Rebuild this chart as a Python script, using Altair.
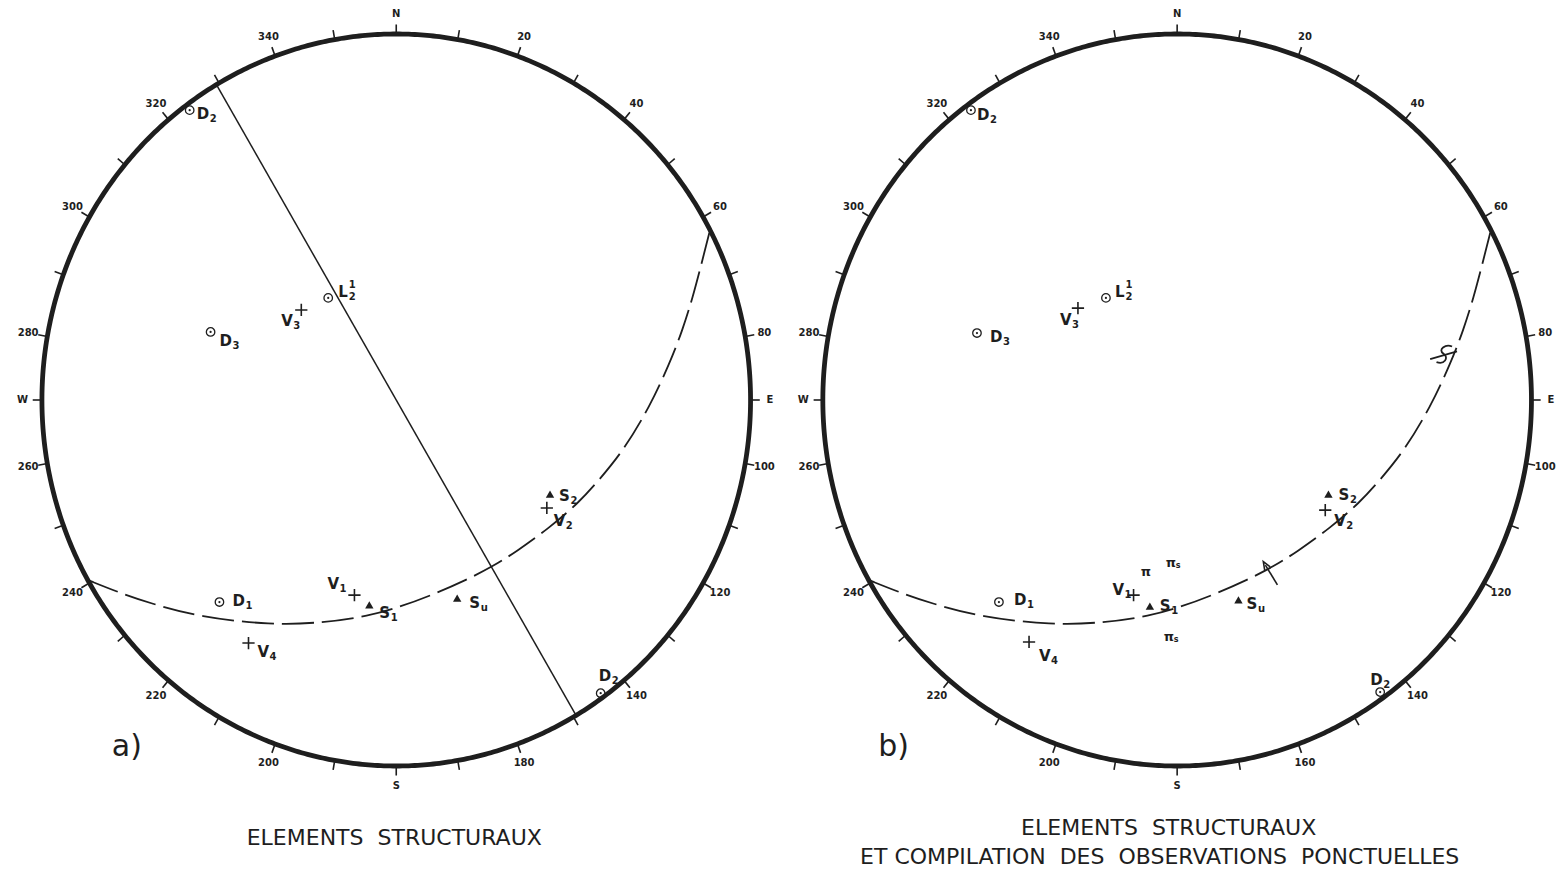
import altair as alt
import pandas as pd
import numpy as np

# ---------------- data (equal-area net coordinates: east, north; unit = net radius) -------------
PANELS = ["a", "b"]

RIM_LABEL_AZ = [0, 20, 40, 60, 80, 90, 100, 120, 140, 160, 180, 200, 220, 240, 260, 270, 280, 300, 320, 340]
RIM_LABELS_A = ["N", "20", "40", "60", "80", "E", "100", "120", "140", "180", "S", "200", "220", "240", "260", "W", "280", "300", "320", "340"]
RIM_LABELS_B = ["N", "20", "40", "60", "80", "E", "100", "120", "140", "160", "S", "200", "220", "240", "260", "W", "280", "300", "320", "340"]

# dashed great circle (both panels)
ARC_E = [-0.870, -0.780, -0.696, -0.555, -0.352, -0.208, -0.076, 0.008, 0.101, 0.197, 0.270,
         0.338, 0.431, 0.515, 0.572, 0.642, 0.715, 0.772, 0.808, 0.837, 0.862, 0.885]
ARC_N = [-0.492, -0.527, -0.555, -0.593, -0.615, -0.609, -0.590, -0.566, -0.533, -0.492, -0.456,
         -0.415, -0.350, -0.281, -0.219, -0.137, -0.019, 0.101, 0.191, 0.281, 0.374, 0.462]

# trace of the vertical plane (panel a)
PLANE_TREND = [329.5, 149.5]

POINT_NAMES = ["D2a", "L", "V3", "D3", "D1", "V1", "S1", "Su", "S2", "V2", "V4", "D2b"]
POINT_KIND = ["D", "D", "V", "D", "D", "V", "S", "S", "S", "V", "V", "D"]
LETTER = ["D", "L", "V", "D", "D", "V", "S", "S", "S", "V", "V", "D"]
SUB = ["2", "2", "3", "3", "1", "1", "1", "u", "2", "2", "4", "2"]
SUP = ["", "1", "", "", "", "", "", "", "", "", "", ""]
A_E = [-0.583, -0.192, -0.268, -0.524, -0.499, -0.118, -0.076, 0.172, 0.434, 0.425, -0.417, 0.577]
A_N = [0.792, 0.279, 0.246, 0.186, -0.552, -0.533, -0.560, -0.541, -0.257, -0.295, -0.664, -0.801]
B_E = [-0.582, -0.201, -0.280, -0.565, -0.503, -0.123, -0.077, 0.173, 0.427, 0.418, -0.418, 0.573]
B_N = [0.792, 0.279, 0.251, 0.183, -0.552, -0.533, -0.563, -0.546, -0.257, -0.301, -0.661, -0.798]

# punctual observations (panel b)
PI_TEXT = ["π", "π", "π"]
PI_SUB = ["", "s", "s"]
PI_E = [-0.103, -0.032, -0.038]
PI_N = [-0.470, -0.445, -0.648]

ARROW_E = [0.283, 0.249]
ARROW_N = [-0.505, -0.451]
SYMBOL_E = [0.754]
SYMBOL_N = [0.123]

# ---------------- layout / style ----------------
INK = "#1e1e1e"
FONT = "DejaVu Sans"
W, H = 1548, 861
PX, PY = 355.0, 366.0
X0 = -(397 - 8) / PX
X1 = X0 + W / PX
Y1 = (400 - 8) / PY
Y0 = Y1 - H / PY
SHIFT = {"a": 0.0, "b": 2.204}

xs = alt.Scale(domain=[X0, X1], nice=False, zero=False)
ys = alt.Scale(domain=[Y0, Y1], nice=False, zero=False)


def X(f="x"):
    return alt.X(f"{f}:Q", scale=xs, axis=None)


def Y(f="y"):
    return alt.Y(f"{f}:Q", scale=ys, axis=None)


layers = []

# primitive circles
t = np.linspace(0, 2 * np.pi, 721)
rim = pd.concat([pd.DataFrame({"x": SHIFT[p] + np.sin(t), "y": np.cos(t),
                               "i": np.arange(len(t)), "panel": p}) for p in PANELS])
layers.append(alt.Chart(rim).mark_line(color=INK, strokeWidth=4.8).encode(
    X(), Y(), order="i:Q", detail="panel:N"))

# ticks every 10 degrees
rows = []
for p in PANELS:
    for a in range(0, 360, 10):
        r = np.radians(a)
        rows.append({"x": SHIFT[p] + np.sin(r), "y": np.cos(r),
                     "x2": SHIFT[p] + 1.026 * np.sin(r), "y2": 1.026 * np.cos(r)})
ticks = pd.DataFrame(rows)
layers.append(alt.Chart(ticks).mark_rule(color=INK, strokeWidth=1.6).encode(
    X(), Y(), x2="x2:Q", y2="y2:Q"))

# rim labels
rows = []
for p, labs in (("a", RIM_LABELS_A), ("b", RIM_LABELS_B)):
    for a, s in zip(RIM_LABEL_AZ, labs):
        r = np.radians(a)
        rows.append({"x": SHIFT[p] + 1.055 * np.sin(r), "y": 1.055 * np.cos(r), "t": s})
rl = pd.DataFrame(rows)
layers.append(alt.Chart(rl).mark_text(font=FONT, fontSize=10, fontWeight="bold", color=INK,
                                      align="center", baseline="middle").encode(X(), Y(), text="t:N"))

# dashed great circle
arc = pd.concat([pd.DataFrame({"x": SHIFT[p] + np.array(ARC_E), "y": ARC_N,
                               "i": np.arange(len(ARC_E)), "panel": p}) for p in PANELS])
layers.append(alt.Chart(arc).mark_line(color=INK, strokeWidth=1.8, strokeDash=[32, 8],
                                       interpolate="basis").encode(
    X(), Y(), order="i:Q", detail="panel:N"))

# vertical plane trace (panel a)
r0, r1 = np.radians(PLANE_TREND)
plane = pd.DataFrame({"x": [np.sin(r0)], "y": [np.cos(r0)], "x2": [np.sin(r1)], "y2": [np.cos(r1)]})
layers.append(alt.Chart(plane).mark_rule(color=INK, strokeWidth=1.5).encode(
    X(), Y(), x2="x2:Q", y2="y2:Q"))

# points
OFF = {
    "a": {"D2a": (7, 4), "L": (10, -6), "V3": (-20, 11), "D3": (9, 9), "D1": (13, -1), "V1": (-27, -11),
          "S1": (10, 8), "Su": (12, 5), "S2": (9, 2), "V2": (7, 13), "V4": (9, 9), "D2b": (-2, -17)},
    "b": {"D2a": (6, 5), "L": (9, -6), "V3": (-18, 12), "D3": (13, 4), "D1": (15, -2), "V1": (-21, -5),
          "S1": (10, 0), "Su": (8, 4), "S2": (10, 1), "V2": (9, 11), "V4": (10, 14), "D2b": (-10, -12)},
}
LW = {"D": 12.5, "L": 10.0, "V": 11.5, "S": 11.0}
rows = []
for p, E, N in (("a", A_E, A_N), ("b", B_E, B_N)):
    for nm, k, le, sb, sp, e, n in zip(POINT_NAMES, POINT_KIND, LETTER, SUB, SUP, E, N):
        dx, dy = OFF[p][nm]
        x = SHIFT[p] + e
        lx = x + dx / PX
        ly = n - dy / PY
        rows.append({"x": x, "y": n, "kind": k, "letter": le, "sub": sb, "sup": sp,
                     "lx": lx, "ly": ly, "sx": lx + (LW[le] + 0.5) / PX})
pts = pd.DataFrame(rows)

dpts = pts[pts.kind == "D"]
layers.append(alt.Chart(dpts).mark_point(shape="circle", filled=False, size=72, strokeWidth=1.3,
                                         color=INK, opacity=1).encode(X(), Y()))
layers.append(alt.Chart(dpts).mark_point(shape="circle", filled=True, size=5, color=INK,
                                         opacity=1).encode(X(), Y()))
layers.append(alt.Chart(pts[pts.kind == "V"]).mark_point(
    shape="M-1,0L1,0M0,-1L0,1", filled=False, size=150, strokeWidth=1.6, color=INK, opacity=1
).encode(X(), Y()))
layers.append(alt.Chart(pts[pts.kind == "S"]).mark_point(
    shape="triangle-up", filled=True, size=70, color=INK, opacity=1).encode(X(), Y()))

layers.append(alt.Chart(pts).mark_text(font=FONT, fontSize=15, fontWeight="bold", color=INK,
                                       align="left", baseline="middle").encode(X("lx"), Y("ly"), text="letter:N"))
layers.append(alt.Chart(pts).mark_text(font=FONT, fontSize=10, fontWeight="bold", color=INK,
                                       align="left", baseline="middle", dy=5).encode(
    X("sx"), Y("ly"), text="sub:N"))
layers.append(alt.Chart(pts[pts["sup"] != ""]).mark_text(font=FONT, fontSize=10, fontWeight="bold", color=INK,
                                                         align="left", baseline="middle", dy=-7).encode(
    X("sx"), Y("ly"), text="sup:N"))

# pi observations (panel b)
pi = pd.DataFrame({"x": SHIFT["b"] + np.array(PI_E), "y": PI_N, "t": PI_TEXT, "s": PI_SUB})
pi["sx"] = pi["x"] + 10 / PX
layers.append(alt.Chart(pi).mark_text(font=FONT, fontSize=13, fontWeight="bold", color=INK,
                                      align="left", baseline="middle").encode(X(), Y(), text="t:N"))
layers.append(alt.Chart(pi).mark_text(font=FONT, fontSize=8, fontWeight="bold", color=INK,
                                      align="left", baseline="middle", dy=3).encode(X("sx"), Y(), text="s:N"))

# arrow (panel b)
arr = pd.DataFrame({"x": [SHIFT["b"] + ARROW_E[0]], "y": [ARROW_N[0]],
                    "x2": [SHIFT["b"] + ARROW_E[1]], "y2": [ARROW_N[1]]})
layers.append(alt.Chart(arr).mark_rule(color=INK, strokeWidth=1.6).encode(X(), Y(), x2="x2:Q", y2="y2:Q"))
layers.append(alt.Chart(arr).mark_point(shape="M-0.8,1L0,-1L0.8,1", filled=False, size=64, strokeWidth=1.6,
                                        angle=329, color=INK, opacity=1).encode(X("x2"), Y("y2")))

# fold symbol on the great circle (panel b)
sym = pd.DataFrame({"x": SHIFT["b"] + np.array(SYMBOL_E), "y": SYMBOL_N})
layers.append(alt.Chart(sym).mark_point(
    shape="M-1,0.3L0.9,-0.25M0.55,-0.6C0.1,-0.8,-0.5,-0.4,-0.05,-0.08C0.35,0.2,0.0,0.7,-0.55,0.5",
    filled=False, size=800, strokeWidth=1.8, color=INK, opacity=1).encode(X(), Y()))

# panel letters
pl = pd.DataFrame({"x": [(112 - 397) / PX, SHIFT["b"] + (880 - 1179.5) / PX],
                   "y": [(400 - 756) / PY] * 2, "t": ["a)", "b)"]})
layers.append(alt.Chart(pl).mark_text(font=FONT, fontSize=30, color=INK, align="left",
                                      baseline="alphabetic").encode(X(), Y(), text="t:N"))

# titles
NB = "\u00a0"
tt = pd.DataFrame({
    "x": [(395 - 397) / PX, SHIFT["b"] + (1171 - 1179.5) / PX, SHIFT["b"] + (1162 - 1179.5) / PX],
    "y": [(400 - 838) / PY, (400 - 828) / PY, (400 - 857) / PY],
    "t": ["ELEMENTS" + NB + NB + "STRUCTURAUX",
          "ELEMENTS" + NB + NB + "STRUCTURAUX",
          "ET COMPILATION" + NB + NB + "DES" + NB + NB + "OBSERVATIONS" + NB + NB + "PONCTUELLES"]})
layers.append(alt.Chart(tt).mark_text(font=FONT, fontSize=22, color=INK, align="center",
                                      baseline="middle").encode(X(), Y(), text="t:N"))

chart = alt.layer(*layers).properties(
    width=W, height=H, padding=0,
    autosize=alt.AutoSizeParams(type="fit", contains="padding"),
    background="white",
).configure_view(strokeWidth=0)

chart.save("out.html", embed_options={"renderer": "svg", "actions": False})
